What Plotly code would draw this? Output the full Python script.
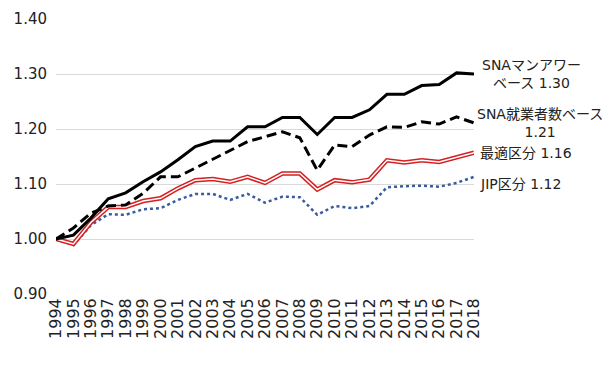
import plotly.graph_objects as go

years = [str(y) for y in range(1994, 2019)]
sna_manhour = [1.000, 1.007, 1.038, 1.073, 1.084, 1.104, 1.122, 1.144, 1.168, 1.178, 1.178, 1.204, 1.204,
               1.221, 1.221, 1.190, 1.221, 1.221, 1.235, 1.263, 1.263, 1.279, 1.281, 1.302, 1.300]
sna_workers = [1.000, 1.020, 1.047, 1.060, 1.062, 1.083, 1.113, 1.113, 1.129, 1.145, 1.162, 1.177, 1.186,
               1.195, 1.184, 1.125, 1.171, 1.168, 1.189, 1.204, 1.203, 1.213, 1.209, 1.222, 1.211]
optimal = [1.000, 0.991, 1.030, 1.058, 1.058, 1.069, 1.074, 1.092, 1.107, 1.109, 1.104, 1.113, 1.102,
           1.119, 1.119, 1.090, 1.107, 1.103, 1.108, 1.143, 1.139, 1.143, 1.140, 1.148, 1.157]
jip = [1.000, 0.989, 1.025, 1.045, 1.044, 1.054, 1.056, 1.071, 1.082, 1.082, 1.071, 1.082, 1.066,
       1.077, 1.076, 1.044, 1.060, 1.056, 1.060, 1.094, 1.096, 1.097, 1.095, 1.102, 1.113]
labels = ["SNAマンアワー<br>ベース 1.30", "SNA就業者数ベース<br>1.21", "最適区分 1.16", "JIP区分 1.12"]
y_ticks = [0.9, 1.0, 1.1, 1.2, 1.3, 1.4]

FONT = "DejaVu Sans, Noto Sans CJK JP, sans-serif"

fig = go.Figure()
fig.add_trace(go.Scatter(x=years, y=jip, mode="lines",
                         line=dict(color="#3A5BA0", width=2.5, dash="dot")))
fig.add_trace(go.Scatter(x=years, y=optimal, mode="lines",
                         line=dict(color="#D42020", width=4.5)))
fig.add_trace(go.Scatter(x=years, y=optimal, mode="lines",
                         line=dict(color="white", width=1.5)))
fig.add_trace(go.Scatter(x=years, y=sna_workers, mode="lines",
                         line=dict(color="black", width=3, dash="10px,5px")))
fig.add_trace(go.Scatter(x=years, y=sna_manhour, mode="lines",
                         line=dict(color="black", width=3)))

# plot area as seen on screen: x 56..474, y(1.00)=239, 55px per 0.1
def px2paper(px):
    return (px - 56) / 418.0

def py2val(py):
    return 1.0 + (239 - py) / 550.0

ann_specs = [
    (labels[0], 531, 74, "center", "center"),
    (labels[1], 540, 123, "center", "center"),
    (labels[2], 478, 153, "left", "left"),
    (labels[3], 478, 184, "left", "left"),
]
for text, px, py, xa, al in ann_specs:
    fig.add_annotation(text=text, x=px2paper(px), xref="paper", y=py2val(py), yref="y",
                       xanchor=xa, yanchor="middle", align=al, showarrow=False,
                       font=dict(family=FONT, size=14, color="#222222"))

fig.update_layout(
    width=610, height=380,
    margin=dict(l=48, r=144, t=11, b=94, autoexpand=False),
    plot_bgcolor="white", paper_bgcolor="white",
    showlegend=False,
    font=dict(family=FONT, size=13, color="#222222"),
)
fig.update_xaxes(type="category", tickangle=-90, showgrid=False, showline=False, automargin=False,
                 tickmode="array", tickvals=years, ticktext=years,
                 ticks="", tickfont=dict(size=16, color="#222222"))
fig.update_yaxes(range=[0.9, 1.4], tickvals=y_ticks, tickformat=".2f", automargin=False,
                 showgrid=True, gridcolor="#D9D9D9", gridwidth=1, zeroline=False,
                 showline=False, ticks="", ticklabelstandoff=8,
                 tickfont=dict(size=15, color="#222222"))

fig.write_html("out.html")
